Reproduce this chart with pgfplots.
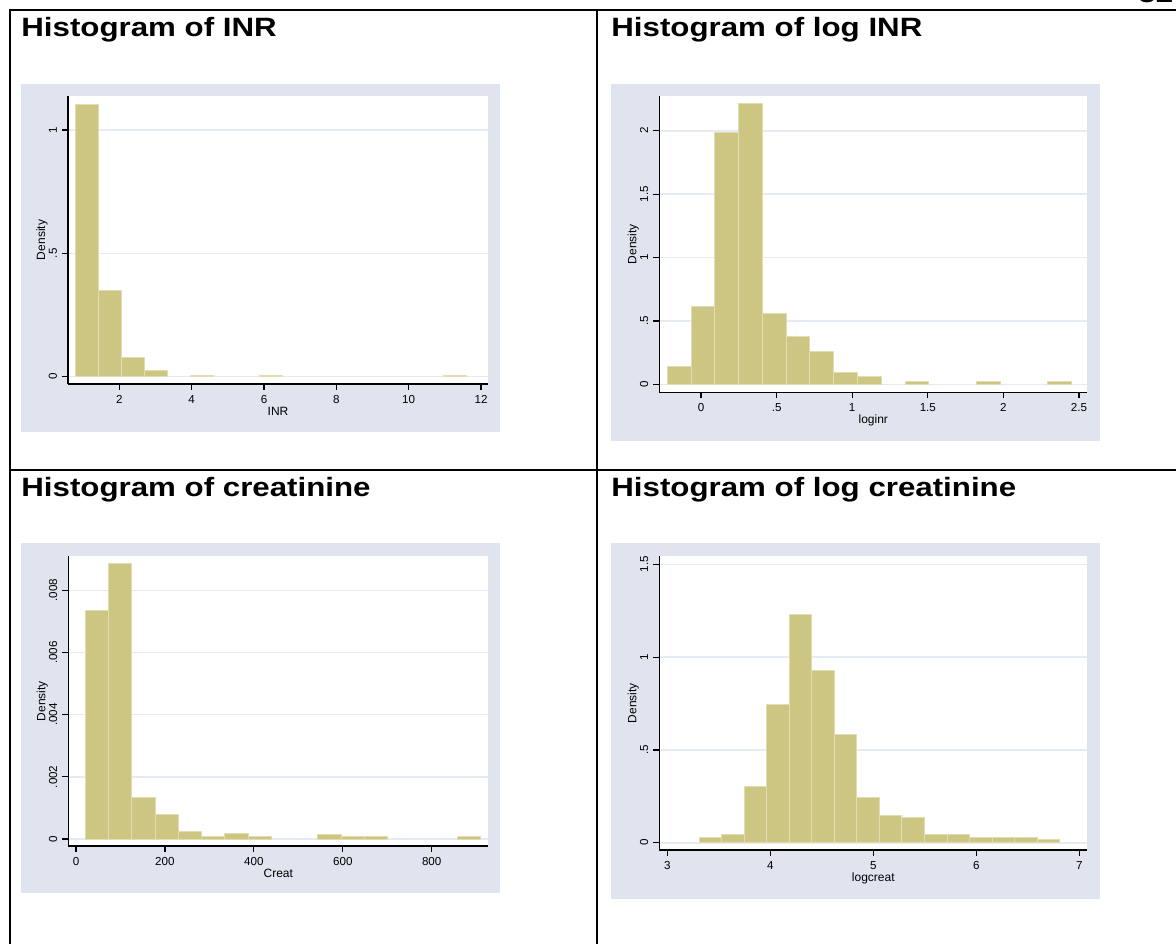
\documentclass[border=0pt]{standalone}
\usepackage{fontspec}
\setmainfont{Liberation Sans}
\newfontfamily\titlefont[FakeStretch=1.18]{Liberation Sans}
\usepackage{pgfplots}
\pgfplotsset{compat=1.18}

\definecolor{bar}{RGB}{205,197,130}
\definecolor{baredge}{RGB}{226,221,176}
\definecolor{region}{RGB}{223,228,239}
\definecolor{gridc}{RGB}{230,234,243}

\pgfplotsset{
  hist/.style={
    scale only axis, anchor=south west,
    axis x line*=bottom, axis y line*=left,
    axis line style={-, line width=0.7pt, black},
    tick align=outside, major tick length=3pt,
    tick style={line width=0.6pt, black},
    ymajorgrids, grid style={line width=0.8pt, gridc},
    axis background/.style={fill=white},
    scaled x ticks=false, scaled y ticks=false,
    tick label style={font=\fontsize{5.8}{6}\selectfont, inner sep=0pt},
    xticklabel style={anchor=base, yshift=-6.6pt},
    yticklabel style={xshift=-2.6pt, rotate=90, anchor=base},
    every axis x label/.style={at={(axis description cs:0.5,0)}, anchor=base,
      yshift=-15.5pt, font=\fontsize{6}{7}\selectfont},
    every axis y label/.style={at={(axis description cs:0,0.5)}, xshift=-11.5pt,
      rotate=90, anchor=base, font=\fontsize{6}{7}\selectfont},
    ylabel={Density},
  },
  bars/.style={ybar interval, fill=bar, draw=baredge, line width=0.5pt},
}

\begin{document}
\begin{tikzpicture}
\useasboundingbox (0,0) rectangle (588pt,472pt);
\clip (0,0) rectangle (588pt,472pt);

% table rules
\draw[line width=1pt] (4.75pt,467.15pt) -- (588pt,467.15pt);
\draw[line width=1pt] (4.75pt,467.65pt) -- (4.75pt,0pt);
\draw[line width=1pt] (298.35pt,467.65pt) -- (298.35pt,0pt);
\draw[line width=1pt] (4.75pt,236.85pt) -- (588pt,236.85pt);
\node[anchor=base west, inner sep=0pt, font=\titlefont\bfseries\fontsize{13.25}{14}\selectfont] at (569pt,470.5pt) {32};

% cell titles
\begin{scope}[every node/.style={anchor=base west, inner sep=0pt, font=\titlefont\bfseries\fontsize{13.25}{14}\selectfont}]
\node at (10.5pt,453.65pt) {Histogram of INR};
\node at (305.5pt,453.65pt) {Histogram of log INR};
\node at (10.5pt,223.85pt) {Histogram of creatinine};
\node at (305.5pt,223.85pt) {Histogram of log creatinine};
\end{scope}

% graph regions
\fill[region] (10.5pt,256pt) rectangle (250pt,430pt);
\fill[region] (305.5pt,251.65pt) rectangle (550pt,430pt);
\fill[region] (10.5pt,25.35pt) rectangle (250pt,200.35pt);
\fill[region] (305.5pt,22.35pt) rectangle (550pt,200.35pt);

% INR
\begin{axis}[hist, at={(34pt,280pt)}, width=210pt, height=144pt,
  xmin=0.582, xmax=12.193, ymin=-0.0296, ymax=1.1378,
  xtick={2,4,6,8,10,12}, xticklabels={2,4,6,8,10,12},
  ytick={0,0.5,1}, yticklabels={0,.5,1}, xlabel={INR}]
\addplot[bars] coordinates {(0.8,1.105) (1.4353,0.349) (2.0706,0.079) (2.7059,0.026) (3.3412,0)};
\addplot[bars] coordinates {(3.9765,0.0066) (4.6118,0)};
\addplot[bars] coordinates {(5.8824,0.0066) (6.5176,0)};
\addplot[bars] coordinates {(10.9647,0.0066) (11.6,0)};
\end{axis}

% log INR
\begin{axis}[hist, at={(329.65pt,275.85pt)}, width=214pt, height=148.15pt,
  xmin=-0.2758, xmax=2.5549, ymin=-0.0631, ymax=2.2737,
  xtick={0,0.5,1,1.5,2,2.5}, xticklabels={0,.5,1,1.5,2,2.5},
  ytick={0,0.5,1,1.5,2}, yticklabels={0,.5,1,1.5,2}, xlabel={loginr}]
\addplot[bars] coordinates {(-0.2231,0.138) (-0.0658,0.616) (0.0915,1.988) (0.2488,2.212)
  (0.4061,0.555) (0.5634,0.374) (0.7207,0.258) (0.8780,0.096) (1.0353,0.060) (1.1926,0)};
\addplot[bars] coordinates {(1.3499,0.024) (1.5072,0)};
\addplot[bars] coordinates {(1.8218,0.024) (1.9791,0)};
\addplot[bars] coordinates {(2.2937,0.024) (2.4510,0)};
\end{axis}

% creatinine
\begin{axis}[hist, at={(34.15pt,49pt)}, width=210pt, height=145pt,
  xmin=-17.3, xmax=927.3, ymin=-0.000225, ymax=0.009103,
  xtick={0,200,400,600,800}, xticklabels={0,200,400,600,800},
  ytick={0,0.002,0.004,0.006,0.008}, yticklabels={0,.002,.004,.006,.008}, xlabel={Creat}]
\addplot[bars] coordinates {(21,0.007357) (73.3,0.008868) (125.6,0.001329) (177.9,0.000794)
  (230.2,0.000257) (282.5,0.00008) (334.8,0.000183) (387.1,0.00008) (439.4,0)};
\addplot[bars] coordinates {(544,0.00013) (596.3,0.00008) (648.6,0.00008) (700.9,0)};
\addplot[bars] coordinates {(857.8,0.00008) (910.1,0)};
\end{axis}

% log creatinine
\begin{axis}[hist, at={(329.65pt,47pt)}, width=214pt, height=147pt,
  xmin=2.922, xmax=7.078, ymin=-0.039, ymax=1.545,
  xtick={3,4,5,6,7}, xticklabels={3,4,5,6,7},
  ytick={0,0.5,1,1.5}, yticklabels={0,.5,1,1.5}, xlabel={logcreat}]
\addplot[bars] coordinates {(3.308,0.0307) (3.527,0.0469) (3.746,0.3017) (3.965,0.7457)
  (4.184,1.2285) (4.403,0.9305) (4.621,0.5857) (4.840,0.2462) (5.059,0.1455) (5.278,0.1347)
  (5.497,0.0469) (5.716,0.0469) (5.935,0.0307) (6.154,0.0307) (6.373,0.0307) (6.592,0.0162)
  (6.811,0)};
\end{axis}
\end{tikzpicture}
\end{document}
